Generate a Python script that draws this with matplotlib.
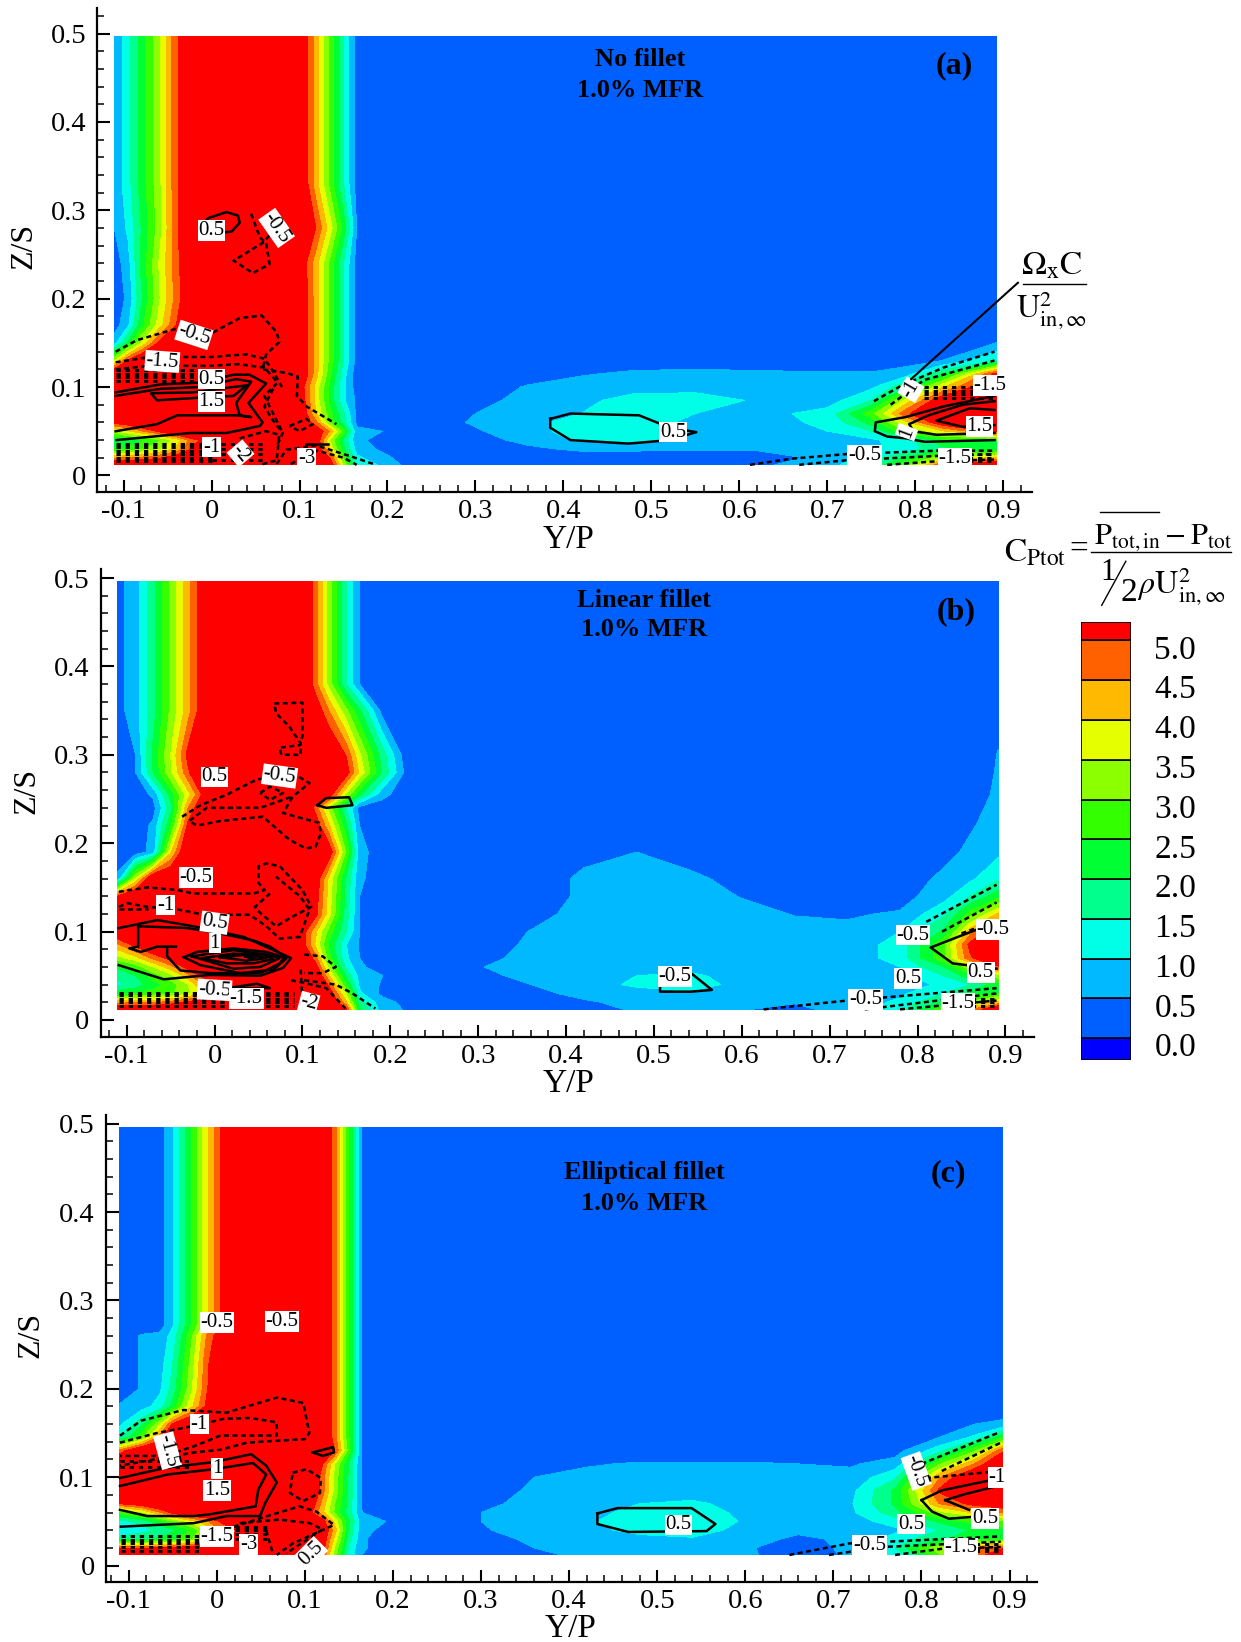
import numpy as np
import matplotlib
matplotlib.use("Agg")
from matplotlib import pyplot as plt
from matplotlib.lines import Line2D

plt.rcParams['font.family'] = ['Liberation Serif', 'DejaVu Serif']
plt.rcParams['mathtext.fontset'] = 'stix'

# contour bands of CPtot
band_edges = [-1, 0.1, 0.6, 1.1, 1.6, 2.1, 2.6, 3.1, 3.6, 4.1, 4.6, 5.1, 20]
band_colors = ['#0000ff', '#0060ff', '#00b9ff', '#00ffe6', '#00ff8c', '#00ff33',
               '#33ff00', '#8cff00', '#e6ff00', '#ffb900', '#ff6000', '#ff0000']
legend_labels = ['0.0', '0.5', '1.0', '1.5', '2.0', '2.5', '3.0', '3.5', '4.0', '4.5', '5.0']
legend_values = [0, 0.5, 1, 1.5, 2, 2.5, 3, 3.5, 4, 4.5, 5]

x_ticks = [-0.1, 0, 0.1, 0.2, 0.3, 0.4, 0.5, 0.6, 0.7, 0.8, 0.9]
x_tick_labels = ['-0.1', '0', '0.1', '0.2', '0.3', '0.4', '0.5', '0.6', '0.7', '0.8', '0.9']
y_ticks = [0, 0.1, 0.2, 0.3, 0.4, 0.5]
y_tick_labels = ['0', '0.1', '0.2', '0.3', '0.4', '0.5']

# ---- panel (a) ----
y_a = [-0.1105, -0.095, -0.08, -0.06, -0.04, -0.02, 0.05, 0.105, 0.12, 0.135, 0.15, 0.165, 0.2, 0.22,
       0.3, 0.36, 0.42, 0.48, 0.55, 0.62, 0.7, 0.75, 0.79, 0.83, 0.892]
z_a = [0.012, 0.02, 0.03, 0.04, 0.05, 0.06, 0.07, 0.085, 0.1, 0.115, 0.13, 0.15, 0.17, 0.2, 0.24, 0.28, 0.33, 0.497]
cp_a_left = [
    [6, 6, 6, 6, 6, 6, 6, 6, 6, 5.6, 3.5, 1.5, .9, .5],
    [4.5, 4.6, 4.7, 5, 5.5, 6, 6, 6, 6, 5, 3, 1.2, .7, .3],
    [2.5, 2.7, 3, 3.5, 4.2, 5.2, 6, 6, 5.5, 4, 2.2, .9, .4, .3],
    [2, 2.2, 2.5, 3, 3.8, 5, 6, 6, 5.5, 3.5, 2, .7, .4, .3],
    [3.5, 4, 4.5, 5.2, 6, 6, 6, 6, 5.6, 4.5, 2.8, .7, .58, .3],
    [5.3, 5.6, 6, 6, 6, 6, 6, 5.6, 4.6, 3, 1.8, .5, .3, .3],
    [6, 6, 6, 6, 6, 6, 6, 5.4, 4, 2.7, 1.7, .45, .3, .3],
    [6, 6, 6, 6, 6, 6, 6, 5.2, 3.8, 2.4, 1.2, .5, .3, .3],
    [6, 6, 6, 6, 6, 6, 6, 5.1, 3.8, 2.4, 1.2, .35, .3, .3],
    [6, 6, 6, 6, 6, 6, 6, 5.5, 4.2, 2.7, 1.3, .3, .3, .3],
    [3.5, 5.2, 6, 6, 6, 6, 6, 5.5, 4.2, 2.9, 1.6, .4, .3, .3],
    [.9, 2.2, 3.6, 5.2, 6, 6, 6, 5.5, 4.2, 2.9, 1.6, .4, .3, .3],
    [.35, 1, 2.4, 3.8, 5.1, 6, 6, 5.5, 4.2, 2.9, 1.6, .4, .3, .3],
    [.3, .7, 2, 3.5, 4.8, 6, 6, 5.5, 4.2, 2.9, 1.6, .4, .3, .3],
    [.3, .9, 2.2, 3.6, 4.9, 6, 6, 5.3, 4.2, 2.9, 1.6, .4, .3, .3],
    [.6, 1.2, 2.1, 3.3, 5, 6, 6, 6, 5, 3.8, 2.4, .6, .3, .3],
    [.7, 1.4, 2.3, 3.4, 5, 6, 6, 5.5, 4.2, 2.9, 1.6, .4, .3, .3],
    [.7, 1.4, 2.3, 3.4, 5, 6, 6, 5.5, 4.2, 2.9, 1.6, .4, .3, .3],
]
cp_a_right = [
    [.3, .3, .3, .3, .3, .5, .9, 1.6, 3, 5, 6],
    [.3, .3, .3, .3, .3, .4, .7, 1.3, 2.2, 3.5, 4.2],
    [.3, .5, .7, .7, .65, .65, .8, 1, 1.3, 2, 2.2],
    [.4, .75, 1.2, 1.2, .95, .8, .9, 1, 1.4, 2.4, 2.6],
    [.55, .85, 1.4, 1.4, 1, .85, 1.1, 1.6, 3, 4, 5.3],
    [.65, .9, 1.4, 1.3, 1, .9, 1.2, 2.3, 4, 5.6, 6],
    [.6, .85, 1.1, 1.3, 1.1, .9, 1.3, 2.9, 5, 6, 6],
    [.45, .75, 1, 1.25, 1.3, 1.05, .85, 1.6, 3.8, 5.6, 6],
    [.3, .65, .85, .95, .95, .9, .7, 1, 2, 4, 6],
    [.3, .35, .55, .7, .75, .7, .65, .65, .9, 2, 5.3],
    [.3, .3, .3, .3, .3, .3, .3, .3, .35, .6, 1.6],
    [.3, .3, .3, .3, .3, .3, .3, .3, .3, .35, .6],
    [.3, .3, .3, .3, .3, .3, .3, .3, .3, .3, .3],
    [.3, .3, .3, .3, .3, .3, .3, .3, .3, .3, .3],
    [.3, .3, .3, .3, .3, .3, .3, .3, .3, .3, .3],
    [.3, .3, .3, .3, .3, .3, .3, .3, .3, .3, .3],
    [.3, .3, .3, .3, .3, .3, .3, .3, .3, .3, .3],
    [.3, .3, .3, .3, .3, .3, .3, .3, .3, .3, .3],
]
solid_a = [
    [(-.006, .288), (-.004, .291), (.017, .298), (.03, .294), (.032, .286), (.023, .276), (.015, .275)],
    [(-.109, .094), (-.058, .103), (-.013, .105), (.025, .114), (.043, .114), (.062, .104), (.042, .082), (.058, .06),
     (.055, .056), (.017, .048), (-.025, .048), (-.108, .04)],
    [(-.109, .09), (-.058, .098), (-.013, .1), (.028, .109), (.045, .106), (.028, .082), (.032, .068), (.045, .066),
     (.028, .068), (-.039, .068), (-.062, .058), (-.109, .05)],
    [(-.068, .093), (-.021, .094), (.04, .102), (.025, .09), (-.013, .088), (-.062, .085), (-.068, .092)],
    [(.107, .036), (.132, .036)],
    [(.385, .064), (.408, .07), (.486, .068), (.521, .054), (.551, .049), (.521, .04), (.474, .036), (.408, .04), (.385, .054), (.385, .064)],
    [(.89, .09), (.832, .078), (.789, .066), (.755, .06), (.754, .05), (.768, .044), (.789, .042), (.811, .038), (.89, .04)],
    [(.89, .084), (.854, .08), (.815, .068), (.793, .058), (.798, .05), (.824, .046), (.89, .048)],
    [(.89, .074), (.862, .076), (.824, .062), (.854, .055), (.89, .057)],
]
dashed_a = [
    [(-.109, .14), (-.085, .153), (-.04, .166), (.002, .162), (.032, .178), (.057, .181), (.074, .162), (.077, .151),
     (.062, .137), (.058, .12), (.085, .116), (.098, .112), (.097, .09), (.108, .078), (.142, .058)],
    [(-.109, .128), (-.07, .134), (0, .134), (.025, .136), (.04, .137), (.06, .132), (.07, .118), (.08, .1)],
    [(-.109, .12), (-.07, .124), (0, .124), (.03, .126), (.06, .122), (.075, .105), (.06, .09), (.07, .07), (.08, .05)],
    [(.045, .296), (.055, .269), (.062, .263), (.066, .239), (.047, .229), (.025, .243), (.058, .263), (.073, .279)],
    [(.07, .098), (.06, .078), (.07, .062), (.081, .048), (.074, .033)],
    [(.089, .056), (.108, .064), (.115, .058), (.1, .05), (.089, .056)],
    [(.032, .042), (.062, .05), (.077, .046), (.074, .017), (.055, .012)],
    [(.074, .013), (.085, .029), (.119, .034), (.16, .021), (.187, .012)],
    [(.09, .013), (.12, .028), (.15, .02), (.165, .012)],
    [(.753, .084), (.785, .102), (.832, .122), (.89, .14)],
    [(.772, .08), (.81, .108), (.89, .13)],
    [(.612, .012), (.66, .019), (.72, .024), (.824, .028), (.89, .028)],
    [(.668, .012), (.72, .017), (.824, .022), (.89, .024)],
    [(.768, .012), (.824, .016), (.89, .018)],
]
dense_a = [
    (-.109, .0, [.107, .111, .115, .119]),
    (-.109, .0, [.016, .02, .024, .028, .032, .035]),
    (.0, .06, [.018, .024, .03, .036]),
    (.81, .89, [.088, .092, .096, .1]),
    (.84, .89, [.016, .02, .024]),
]
labels_a = [
    ('0.5', 0, .277, 0), ('-0.5', .074, .28, -55), ('-0.5', -.02, .159, -18), ('-1.5', -.056, .129, -4),
    ('0.5', 0, .109, 0), ('1.5', 0, .084, 0), ('-1', 0, .032, 0), ('-2', .033, .025, -50), ('-3', .108, .019, 0),
    ('0.5', .525, .049, 0), ('-1', .795, .097, 60), ('-1.5', .885, .102, 0), ('1', .79, .049, 70),
    ('1.5', .873, .055, 0), ('-0.5', .742, .023, 0), ('-1.5', .845, .019, 0),
]

# ---- panel (b) ----
y_b = [-0.1105, -0.09, -0.07, -0.05, -0.03, -0.015, 0.05, 0.1, 0.115, 0.13, 0.15, 0.165, 0.19, 0.215,
       0.3, 0.36, 0.42, 0.48, 0.54, 0.6, 0.66, 0.72, 0.78, 0.83, 0.86, 0.892]
z_b = [0.012, 0.02, 0.03, 0.04, 0.05, 0.06, 0.07, 0.085, 0.1, 0.12, 0.14, 0.16, 0.19, 0.22, 0.24, 0.255, 0.28, 0.3, 0.35, 0.38, 0.496]
cp_b_left = [
    [6, 6, 6, 6, 6, 6, 6, 6, 6, 6, 5.2, 2.2, .9, .58],
    [4.4, 4.5, 4.5, 4.8, 5.2, 5.6, 6, 6, 6, 6, 4.2, 1.8, .8, .5],
    [2.4, 2.6, 2.8, 3, 3.5, 4, 6, 6, 6, 5.6, 3.5, 1.2, .5, .4],
    [1.5, 1.8, 2.4, 2.8, 3.6, 4.5, 6, 6, 6, 5, 2.6, 1, .55, .3],
    [1.7, 2.1, 2.8, 3.4, 4.4, 5.2, 6, 6, 5.9, 4.2, 2, .9, .62, .3],
    [2.2, 2.8, 3.6, 4.4, 5.4, 6, 6, 6, 5.4, 3.4, 1.5, .7, .35, .3],
    [3.4, 3.9, 4.7, 5.3, 6, 6, 6, 6, 4.8, 2.8, 1.2, .6, .3, .3],
    [4.5, 5.3, 6, 6, 6, 6, 6, 5.4, 4, 2.5, 1.1, .55, .3, .3],
    [5.8, 6, 6, 6, 6, 6, 6, 5.4, 4.2, 2.9, 1.6, .6, .3, .3],
    [6, 6, 6, 6, 6, 6, 6, 6, 5.3, 3.8, 1.8, .6, .3, .3],
    [5.1, 6, 6, 6, 6, 6, 6, 6, 5.4, 3.9, 1.9, .6, .3, .3],
    [.7, 3.6, 6, 6, 6, 6, 6, 6, 5.6, 4, 2, .7, .3, .3],
    [.3, .3, .8, 4, 6, 6, 6, 6, 6, 5.6, 3, .8, .3, .3],
    [.3, .3, .7, 2.5, 5.3, 6, 6, 6, 5.5, 4.2, 2.2, .6, .3, .3],
    [.3, .3, .4, 1.9, 4.6, 5.6, 6, 6, 4.9, 3.4, 1.6, .4, .3, .3],
    [.3, .3, .7, 2.3, 3.9, 5.1, 6, 6, 5.8, 5.5, 3.5, 2.2, .8, .3],
    [.3, .6, 2.1, 3.5, 5, 6, 6, 6, 6, 6, 5.4, 4, 2.1, .6],
    [.3, .6, 2.2, 3.6, 5.3, 6, 6, 6, 6, 6, 5.05, 3.7, 1.9, .45],
    [.4, .9, 1.9, 3.2, 4.4, 5.4, 6, 6, 5.6, 4.6, 3.2, 2.2, .45, .3],
    [.4, .9, 1.9, 3.2, 4.4, 5.4, 6, 5.9, 4.8, 3.4, 1.6, .6, .3, .3],
    [.4, .9, 1.9, 3.2, 4.4, 5.4, 6, 5.9, 4.8, 3.4, 1.6, .6, .3, .3],
]
cp_b_right = [
    [.3, .3, .45, .65, .7, .65, .4, .9, 1.4, 3, 4.5, 6],
    [.3, .3, .55, .7, .75, .7, .65, .8, 1.2, 2.2, 3.2, 4.2],
    [.3, .5, .7, .85, 1, .8, .7, .75, 1, 1.6, 2.2, 2.6],
    [.35, .6, .85, 1.2, 1.4, .9, .75, .7, .85, 1.2, 1.6, 2.4],
    [.5, .7, .95, 1.1, 1.2, .9, .75, .75, .95, 1.6, 2.4, 3.4],
    [.58, .75, .95, .95, .95, .85, .75, .75, 1.1, 2.1, 3.4, 5],
    [.45, .75, .9, .9, .9, .85, .75, .8, 1.3, 3, 5, 6],
    [.3, .7, .9, .9, .9, .85, .75, .8, 1.3, 3, 5.3, 6],
    [.3, .62, .85, .9, .85, .8, .75, .7, 1.1, 2.2, 4.4, 5.6],
    [.3, .4, .8, .85, .8, .75, .58, .55, .65, 1.5, 2.8, 4.2],
    [.3, .3, .7, .8, .8, .58, .4, .35, .4, .9, 1.6, 2.4],
    [.3, .3, .7, .75, .7, .45, .3, .3, .35, .7, 1, 1.5],
    [.3, .3, .45, .6, .4, .3, .3, .3, .3, .45, .7, 1],
    [.3, .3, .3, .3, .3, .3, .3, .3, .3, .35, .55, .8],
    [.3, .3, .3, .3, .3, .3, .3, .3, .3, .3, .45, .75],
    [.3, .3, .3, .3, .3, .3, .3, .3, .3, .3, .35, .7],
    [.3, .3, .3, .3, .3, .3, .3, .3, .3, .3, .3, .65],
    [.3, .3, .3, .3, .3, .3, .3, .3, .3, .3, .3, .62],
    [.3, .3, .3, .3, .3, .3, .3, .3, .3, .3, .3, .45],
    [.3, .3, .3, .3, .3, .3, .3, .3, .3, .3, .3, .3],
    [.3, .3, .3, .3, .3, .3, .3, .3, .3, .3, .3, .3],
]
solid_b = [
    [(-.109, .104), (-.065, .113), (-.024, .106), (.033, .094), (.067, .079), (.087, .07), (.078, .059), (.052, .05),
     (-.005, .051), (-.058, .046), (-.109, .062)],
    [(-.087, .106), (-.087, .083), (-.097, .081), (-.084, .077), (-.065, .083), (-.044, .083)],
    [(-.054, .082), (-.054, .072), (-.039, .056), (-.005, .053), (.052, .053), (.074, .064), (.08, .072), (.063, .083),
     (.044, .09), (.006, .098), (-.031, .104), (-.087, .106)],
    [(-.035, .071), (-.02, .077), (.021, .081), (.059, .077), (.082, .07), (.067, .057), (.029, .053), (-.016, .062), (-.035, .071)],
    [(-.026, .072), (.021, .079), (.059, .074), (.074, .07), (.052, .06), (.021, .058), (-.026, .072)],
    [(-.014, .07), (.021, .075), (.055, .074), (.067, .069), (.044, .064), (.014, .064), (-.014, .07)],
    [(.006, .071), (.04, .074), (.059, .07), (.036, .067), (.006, .071)],
    [(.035, .072), (.048, .072), (.042, .069), (.035, .072)],
    [(.117, .243), (.127, .251), (.153, .252), (.157, .243), (.127, .24), (.117, .243)],
    [(.021, .037), (.048, .041), (.063, .036), (.021, .036)],
    [(.507, .046), (.518, .058), (.536, .058), (.566, .034), (.542, .032), (.507, .032), (.507, .046)],
    [(.89, .111), (.815, .082), (.84, .064), (.89, .058)],
]
dashed_b = [
    [(-.109, .145), (-.076, .15), (-.042, .147), (-.024, .143), (.044, .143), (.057, .147), (.05, .155), (.05, .174),
     (.059, .177), (.074, .174), (.1, .147), (.11, .128), (.089, .117), (.07, .106), (.052, .121), (.046, .128), (.063, .143)],
    [(-.109, .128), (-.099, .132), (-.076, .128), (-.042, .125), (-.012, .119), (.04, .119), (.059, .106), (.074, .092),
     (.097, .094), (.108, .125), (.097, .14), (.07, .162)],
    [(-.109, .125), (-.076, .125)],
    [(-.037, .23), (-.016, .243), (.014, .255), (.048, .272), (.089, .279), (.108, .268), (.089, .253), (.078, .234),
     (.119, .223), (.121, .211), (.115, .196), (.104, .194), (.085, .204), (.055, .23), (.006, .225), (-.02, .22),
     (-.029, .225), (-.009, .24), (.014, .24), (.052, .24), (.089, .253)],
    [(.052, .257), (.063, .264), (.078, .257), (.063, .249), (.052, .257)],
    [(.068, .358), (.1, .359), (.1, .321), (.097, .311), (.074, .308), (.076, .3), (.098, .3), (.098, .313), (.085, .332), (.07, .347), (.068, .358)],
    [(.102, .074), (.123, .072), (.138, .06), (.123, .053), (.102, .053)],
    [(.102, .045), (.138, .04), (.157, .03), (.183, .013)],
    [(.087, .045), (.102, .042), (.127, .036), (.149, .013)],
    [(.098, .057), (.1, .023)],
    [(.81, .111), (.89, .153)],
    [(.828, .1), (.89, .133)],
    [(.85, .098), (.89, .112)],
    [(.625, .012), (.72, .022), (.89, .036)],
    [(.74, .012), (.89, .03)],
    [(.78, .012), (.89, .022)],
]
dense_b = [
    (-.109, .09, [.016, .02, .024, .028, .031]),
    (.84, .89, [.016, .02, .024]),
]
labels_b = [
    ('0.5', 0, .275, 0), ('-0.5', .074, .276, -8), ('-0.5', -.021, .161, 0), ('-1', -.056, .13, 0),
    ('0.5', 0, .11, -8), ('1', 0, .087, 0), ('-0.5', 0, .034, -3), ('-1.5', .036, .024, 0), ('-2', .107, .019, -15),
    ('-0.5', .524, .049, 0), ('-0.5', .795, .096, 0), ('-0.5', .886, .102, 0), ('0.5', .789, .047, 0),
    ('0.5', .872, .054, 0), ('-0.5', .741, .023, 0), ('-1.5', .846, .019, 0),
]

# ---- panel (c) ----
y_c = [-0.1105, -0.085, -0.065, -0.05, -0.03, -0.012, 0.005, 0.05, 0.105, 0.12, 0.135, 0.15, 0.165, 0.205,
       0.3, 0.36, 0.42, 0.48, 0.54, 0.6, 0.66, 0.72, 0.77, 0.82, 0.86, 0.892]
z_c = [0.012, 0.02, 0.03, 0.04, 0.05, 0.06, 0.07, 0.085, 0.1, 0.115, 0.13, 0.145, 0.16, 0.18, 0.2, 0.23, 0.26, 0.272, 0.496]
cp_c_left = [
    [6, 6, 6, 6, 6, 6, 6, 6, 6, 5, 3.2, 1.4, .6, .3],
    [5, 5, 5.2, 5.2, 5.5, 5.8, 6, 6, 6, 5.4, 3.4, 1.5, .65, .3],
    [1.8, 2, 2.2, 2.5, 3, 3.8, 4.7, 6, 6, 5.6, 3.8, 1.8, .65, .3],
    [1.2, 1.4, 1.7, 2, 2.6, 3.6, 4.6, 6, 6, 5.8, 4.2, 2, .7, .4],
    [1.4, 1.8, 2.4, 3, 3.8, 4.5, 5.2, 6, 6, 5.4, 3.8, 2.2, .7, .55],
    [2.8, 3.5, 4.5, 5.3, 6, 6, 6, 6, 5.3, 4.2, 2.9, 1.8, .6, .3],
    [5.1, 5.5, 6, 6, 6, 6, 6, 6, 5.7, 4.4, 3, 1.9, .5, .3],
    [6, 6, 6, 6, 6, 6, 6, 6, 6, 4.8, 3.3, 2, .5, .3],
    [6, 6, 6, 6, 6, 6, 6, 6, 6, 4.8, 3.3, 2, .5, .3],
    [6, 6, 6, 6, 6, 6, 6, 6, 6, 5.1, 3.5, 2, .5, .3],
    [4.8, 6, 6, 6, 6, 6, 6, 6, 6, 6, 5, 2.8, .5, .3],
    [1.5, 3, 4.8, 6, 6, 6, 6, 6, 6, 6, 4.7, 2.6, .5, .3],
    [1, 2, 3.5, 5.2, 6, 6, 6, 6, 6, 6, 4.7, 2.6, .5, .3],
    [.65, .9, 1.3, 2.3, 3.9, 5.2, 6, 6, 6, 6, 4.7, 2.6, .5, .3],
    [.3, .65, 1, 1.8, 3.4, 5, 6, 6, 6, 6, 4.7, 2.6, .5, .3],
    [.3, .65, .85, 1.6, 3.2, 4.9, 6, 6, 6, 6, 4.7, 2.6, .5, .3],
    [.3, .65, .75, 1.3, 2.9, 4.6, 5.6, 6, 6, 6, 4.7, 2.6, .5, .3],
    [.3, .3, .3, 1.05, 2.5, 3.9, 5.15, 6, 6, 6, 4.7, 2.6, .5, .3],
    [.3, .3, .3, 1.05, 2.5, 3.9, 5.15, 6, 6, 6, 4.7, 2.6, .5, .3],
]
cp_c_right = [
    [.3, .55, .65, .65, .65, .65, .45, .65, 1.2, 3, 4.5, 6],
    [.3, .6, .7, .7, .7, .65, .4, .7, 1.6, 3.5, 4.8, 5],
    [.4, .7, .85, 1, 1.05, .8, .5, .7, 1.3, 2, 2.4, 2.6],
    [.55, .8, 1, 1.2, 1.3, .95, .7, .75, 1, 1.6, 2.2, 2.4],
    [.6, .85, 1.05, 1.3, 1.4, 1.05, .85, .9, 1.3, 2.2, 2.8, 3],
    [.6, .85, 1, 1.2, 1.3, 1, .85, 1, 1.9, 3.4, 4.2, 4.6],
    [.45, .8, .95, 1.1, 1.15, 1, .85, 1.05, 2.2, 4.6, 5.3, 5.6],
    [.3, .7, .85, .95, .95, .9, .8, .95, 2.2, 5.2, 6, 6],
    [.3, .6, .75, .8, .8, .75, .7, .75, 1.5, 4.5, 6, 6],
    [.3, .3, .55, .65, .65, .65, .6, .55, .8, 3, 4.6, 6],
    [.3, .3, .3, .3, .3, .3, .3, .3, .4, 1.4, 3, 5],
    [.3, .3, .3, .3, .3, .3, .3, .3, .3, .6, 1.2, 2.5],
    [.3, .3, .3, .3, .3, .3, .3, .3, .3, .3, .6, .7],
    [.3, .3, .3, .3, .3, .3, .3, .3, .3, .3, .3, .3],
    [.3, .3, .3, .3, .3, .3, .3, .3, .3, .3, .3, .3],
    [.3, .3, .3, .3, .3, .3, .3, .3, .3, .3, .3, .3],
    [.3, .3, .3, .3, .3, .3, .3, .3, .3, .3, .3, .3],
    [.3, .3, .3, .3, .3, .3, .3, .3, .3, .3, .3, .3],
    [.3, .3, .3, .3, .3, .3, .3, .3, .3, .3, .3, .3],
]
solid_c = [
    [(-.11, .099), (-.056, .111), (-.004, .117), (.039, .126), (.056, .113), (.068, .094), (.055, .071), (.049, .056),
     (.011, .056), (-.026, .048), (-.109, .044)],
    [(-.11, .09), (-.056, .103), (-.004, .109), (.041, .116), (.056, .103), (.047, .086), (.044, .067), (-.008, .058),
     (-.026, .056), (-.079, .056), (-.11, .063)],
    [(.109, .128), (.132, .134), (.133, .128), (.12, .124), (.109, .128)],
    [(.432, .059), (.455, .065), (.539, .065), (.566, .047), (.556, .039), (.467, .038), (.432, .047), (.432, .059)],
    [(.8, .074), (.823, .085), (.89, .099)],
    [(.827, .074), (.85, .081), (.89, .091)],
    [(.8, .074), (.812, .061), (.831, .053), (.857, .055)],
    [(.827, .074), (.854, .063)],
]
dashed_c = [
    [(-.11, .147), (-.086, .164), (-.038, .176), (.011, .173), (.068, .19), (.098, .184), (.105, .15), (.1, .143),
     (.064, .141), (.034, .139), (.004, .131), (-.026, .128), (-.11, .113)],
    [(-.11, .139), (-.068, .15), (-.026, .158), (.008, .166), (.038, .167), (.068, .162), (.068, .147), (.004, .147),
     (-.026, .135), (-.06, .124), (-.11, .124)],
    [(.086, .105), (.102, .109), (.118, .099), (.117, .082), (.098, .073), (.083, .082), (.086, .105)],
    [(.019, .044), (.064, .058), (.094, .067), (.113, .061), (.133, .046), (.086, .025), (.068, .012)],
    [(.026, .048), (.071, .052), (.105, .048), (.12, .041), (.079, .014)],
    [(.056, .04), (.064, .012)],
    [(.8, .115), (.889, .151)],
    [(.823, .107), (.89, .139)],
    [(.805, .099), (.89, .107)],
    [(.65, .012), (.718, .025), (.89, .033)],
    [(.695, .012), (.755, .021), (.89, .027)],
    [(.77, .012), (.823, .019), (.89, .021)],
]
dense_c = [
    (-.109, -.02, [.017, .021, .025, .029, .033]),
    (.02, .06, [.03, .036, .04, .044]),
    (-.11, -.03, [.112, .118]),
    (.84, .89, [.016, .02, .024]),
]
labels_c = [
    ('-0.5', 0, .275, 0), ('-0.5', .074, .276, 0), ('-1', -.02, .16, 0), ('-1.5', -.056, .13, -75),
    ('1', 0, .11, 0), ('1.5', 0, .085, 0), ('-1.5', 0, .033, 0), ('-3', .036, .024, 0), ('0.5', .107, .014, 45),
    ('0.5', .524, .046, 0), ('-0.5', .794, .107, -70), ('-1', .886, .1, 0), ('0.5', .788, .047, 0),
    ('0.5', .872, .053, 0), ('-0.5', .741, .023, 0), ('-1.5', .845, .02, 0),
]

W, H = 1185.0, 1568.0


def _fx(x):
    return x / W


def _fy(y):
    return 1 - y / H


def _draw_panel(box, tick0, tick9, ztick0, ztick5, y, z, left, right, solid, dashed, dense, labels):
    """box is left, top, right, bottom of the axes in reference pixels."""
    ax = fig.add_axes([_fx(box[0]), _fy(box[3]), (box[2] - box[0]) / W, (box[3] - box[1]) / H])
    px_x = (tick9 - tick0) / 1.0
    px_z = (ztick0 - ztick5) / 0.5

    cp = np.hstack([np.array(left), np.array(right)])
    ax.contourf(y, z, cp, levels=band_edges, colors=band_colors)

    for line in solid:
        xs, zs = zip(*line)
        ax.plot(xs, zs, color='k', lw=1.8)
    for line in dashed:
        xs, zs = zip(*line)
        ax.plot(xs, zs, color='k', lw=1.8, ls=(0, (2, 1.4)))
    for x0, x1, rows in dense:
        for row in rows:
            ax.plot([x0, x1], [row, row], color='k', lw=2.2, ls=(0, (1.4, 1.6)))
    for s, lx, lz, rot in labels:
        ax.text(lx, lz, s, fontsize=15, ha='center', va='center', rotation=rot, zorder=6,
                bbox=dict(fc='white', ec='none', pad=0.6))

    for side in ['top', 'right']:
        ax.spines[side].set_visible(False)
    for side in ['left', 'bottom']:
        ax.spines[side].set_linewidth(1.6)
    ax.set_xticks(x_ticks)
    ax.set_xticklabels(x_tick_labels)
    ax.set_yticks(y_ticks)
    ax.set_yticklabels(y_tick_labels)
    ax.set_xticks(np.arange(-0.12, 0.93, 0.02), minor=True)
    ax.set_yticks(np.arange(-0.02, 0.53, 0.02), minor=True)
    ax.tick_params(which='major', direction='in', length=9, width=1.5, labelsize=20.5)
    ax.tick_params(axis='x', which='major', pad=5)
    ax.tick_params(axis='y', which='major', pad=8)
    ax.tick_params(which='minor', direction='in', length=5, width=1.1)
    # limits last, set_xticks would widen them
    ax.set_xlim(-0.1 + (box[0] - tick0) / px_x, -0.1 + (box[2] - tick0) / px_x)
    ax.set_ylim((ztick0 - box[3]) / px_z, (ztick0 - box[1]) / px_z)
    ax.patch.set_alpha(0)
    return ax


fig = plt.figure(figsize=(12.41, 16.42), dpi=100)

_draw_panel((93, 8, 985, 470), 118, 958, 454, 32, y_a, z_a, cp_a_left, cp_a_right, solid_a, dashed_a, dense_a, labels_a)
_draw_panel((96, 543, 987, 990), 121, 960, 974, 552, y_b, z_b, cp_b_left, cp_b_right, solid_b, dashed_b, dense_b, labels_b)
_draw_panel((101, 1065, 990, 1511), 123, 964, 1495, 1073, y_c, z_c, cp_c_left, cp_c_right, solid_c, dashed_c, dense_c, labels_c)


def _txt(x, y, s, **kw):
    kw.setdefault('ha', 'center')
    kw.setdefault('va', 'center')
    fig.text(_fx(x), _fy(y), s, **kw)


for x, y, s in [(23, 235, 'Z/S'), (26, 755, 'Z/S'), (30, 1275, 'Z/S')]:
    _txt(x, y, s, fontsize=23, rotation=90)
for x, y in [(543, 515), (543, 1035), (545, 1555)]:
    _txt(x, y, 'Y/P', fontsize=24)

for x, y, s in [(611, 57, 'No fillet'), (611, 86, '1.0% MFR'), (615, 573, 'Linear fillet'), (615, 601, '1.0% MFR'),
                (615, 1120, 'Elliptical fillet'), (615, 1149, '1.0% MFR')]:
    _txt(x, y, s, fontsize=19, fontweight='bold')
for x, y, s in [(911, 63, '(a)'), (913, 584, '(b)'), (906, 1121, '(c)')]:
    _txt(x, y, s, fontsize=23, fontweight='bold')

# vorticity note and leader
fig.add_artist(Line2D([_fx(870), _fx(972)], [_fy(362), _fy(270)], color='k', lw=1.5))
fig.add_artist(Line2D([_fx(977), _fx(1037)], [_fy(271), _fy(271)], color='k', lw=1))
_txt(1004, 254, r'$\Omega_{\mathrm{x}}\mathrm{C}$', fontsize=24)
_txt(1004, 296, r'$\mathrm{U}^{2}_{\mathrm{in},\infty}$', fontsize=23)

# total pressure loss formula
_txt(989, 528, r'$\mathrm{C}_{\mathrm{Ptot}}$', fontsize=24)
_txt(1030, 525, '=', fontsize=24)
_txt(1111, 513, r'$\mathrm{P}_{\mathrm{tot,in}}-\mathrm{P}_{\mathrm{tot}}$', fontsize=22)
fig.add_artist(Line2D([_fx(1050), _fx(1107)], [_fy(489), _fy(489)], color='k', lw=1))
fig.add_artist(Line2D([_fx(1042), _fx(1175)], [_fy(527), _fy(527)], color='k', lw=1))
_txt(1058, 547, '1', fontsize=22)
fig.add_artist(Line2D([_fx(1052), _fx(1075)], [_fy(578), _fy(536)], color='k', lw=1))
_txt(1078, 566, '2', fontsize=24)
_txt(1128, 560, r'$\rho\mathrm{U}^{2}_{\mathrm{in},\infty}$', fontsize=23)

# contour legend
leg = fig.add_axes([_fx(1032), _fy(1012), 48 / W, (1012 - 594) / H])
leg_lo, leg_hi = -0.17, 5.33
leg.set_ylim(leg_lo, leg_hi)
leg.set_xlim(0, 1)
for i, c in enumerate(band_colors):
    lo = max(band_edges[i], leg_lo)
    hi = min(band_edges[i + 1], leg_hi)
    leg.bar(0.5, hi - lo, width=1, bottom=lo, color=c, edgecolor='k', linewidth=1.2)
for v, s in zip(legend_values, legend_labels):
    leg.text(1.88, v - 0.025, s, fontsize=24, ha='center', va='center', clip_on=False)
leg.axis('off')

fig.savefig("out.png", dpi=100)
